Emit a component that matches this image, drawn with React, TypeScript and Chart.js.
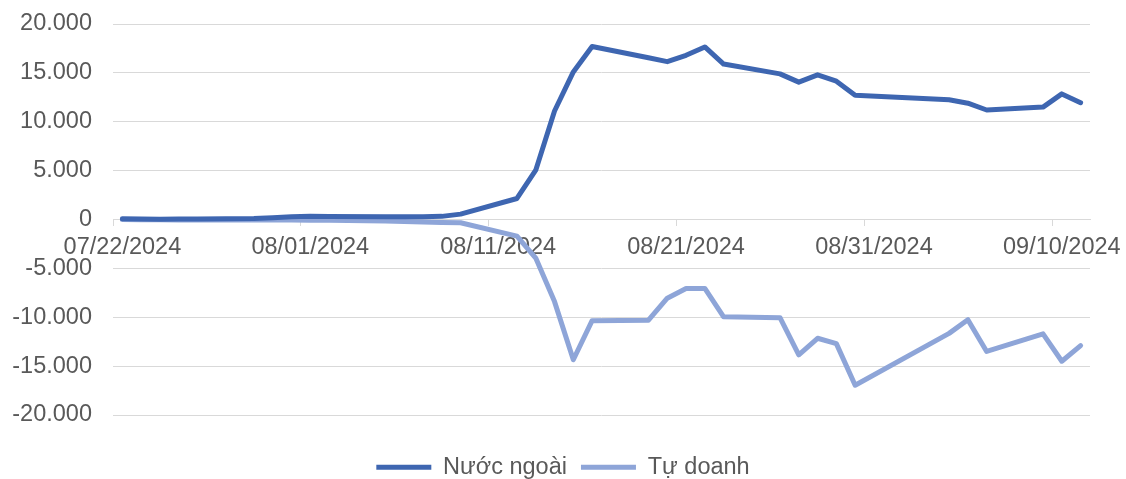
import React, { useEffect, useRef } from 'react';
import { Chart, registerables } from 'chart.js';

Chart.register(...registerables);

// Trading dates (MM/DD/YYYY)
const DATES = [
  '07/22/2024', '07/23/2024', '07/24/2024', '07/25/2024', '07/26/2024',
  '07/29/2024', '07/30/2024', '07/31/2024', '08/01/2024', '08/02/2024',
  '08/05/2024', '08/06/2024', '08/07/2024', '08/08/2024', '08/09/2024',
  '08/12/2024', '08/13/2024', '08/14/2024', '08/15/2024', '08/16/2024',
  '08/19/2024', '08/20/2024', '08/21/2024', '08/22/2024', '08/23/2024',
  '08/26/2024', '08/27/2024', '08/28/2024', '08/29/2024', '08/30/2024',
  '09/04/2024', '09/05/2024', '09/06/2024',
  '09/09/2024', '09/10/2024', '09/11/2024',
];

const NUOC_NGOAI = [
  80, 60, 30, 40, 60,
  100, 180, 280, 330, 300,
  280, 270, 290, 320, 550,
  2150, 5050, 11100, 15100, 17700,
  16550, 16150, 16800, 17650, 15900,
  14900, 14050, 14800, 14150, 12700,
  12250, 11900, 11200,
  11500, 12850, 11950,
];

const TU_DOANH = [
  0, -20, -30, -40, -40,
  -50, -60, -60, -70, -80,
  -150, -200, -250, -300, -330,
  -1700, -3950, -8400, -14350, -10350,
  -10300, -8050, -7050, -7050, -9950,
  -10050, -13850, -12150, -12700, -16950,
  -11650, -10250, -13500,
  -11700, -14500, -12900,
];

const X_TICK_LABELS = ['07/22/2024', '08/01/2024', '08/11/2024', '08/21/2024', '08/31/2024', '09/10/2024'];
const X_START = '07/22/2024';
const X_END = '09/11/2024';
const Y_MIN = -20000;
const Y_MAX = 20000;
const Y_STEP = 5000;

const SERIES_NAMES = ['Nước ngoài', 'Tự doanh'];

function toUTC(s: string): number {
  const [m, d, y] = s.split('/').map(Number);
  return Date.UTC(y, m - 1, d);
}
function dayIndex(s: string): number {
  return Math.round((toUTC(s) - toUTC(X_START)) / 86400000);
}
function fmt(v: number): string {
  const sign = v < 0 ? '-' : '';
  const s = String(Math.abs(Math.round(v)));
  return sign + s.replace(/\B(?=(\d{3})+(?!\d))/g, '.');
}

const FONT = { family: '"Liberation Sans", Arial, sans-serif', size: 23.5 };
const TEXT = '#595959';
const GRID = '#d9d9d9';

export default function App() {
  const ref = useRef<HTMLCanvasElement>(null);
  useEffect(() => {
    if (!ref.current) return;
    const xs = DATES.map(dayIndex);
    const chart = new Chart(ref.current, {
      type: 'line',
      data: {
        datasets: [
          {
            label: SERIES_NAMES[0],
            data: xs.map((x, i) => ({ x, y: NUOC_NGOAI[i] })),
            borderColor: '#3e66b1',
            backgroundColor: '#3e66b1',
            borderWidth: 5,
            pointRadius: 0,
            tension: 0,
            borderJoinStyle: 'round',
            borderCapStyle: 'round',
          },
          {
            label: SERIES_NAMES[1],
            data: xs.map((x, i) => ({ x, y: TU_DOANH[i] })),
            borderColor: '#8ea5d8',
            backgroundColor: '#8ea5d8',
            borderWidth: 5,
            pointRadius: 0,
            tension: 0,
            borderJoinStyle: 'round',
            borderCapStyle: 'round',
          },
        ],
      },
      options: {
        responsive: false,
        animation: false,
        devicePixelRatio: 1,
        layout: { padding: { top: 24, left: 12, right: 12, bottom: 0 } },
        plugins: {
          tooltip: { enabled: false },
          legend: {
            position: 'bottom',
            title: { display: true, text: '', padding: { top: 25.5, bottom: 0 }, font: { size: 1, lineHeight: 1 } },
            labels: {
              usePointStyle: true,
              pointStyle: 'line',
              pointStyleWidth: 55,
              padding: 14,
              color: TEXT,
              font: FONT,
            },
          },
        },
        scales: {
          x: {
            type: 'linear',
            min: dayIndex(X_START) - 0.5,
            max: dayIndex(X_END) + 0.5,
            position: { y: 0 },
            afterBuildTicks: (s: any) => {
              s.ticks = X_TICK_LABELS.map((l) => ({ value: dayIndex(l) - 0.5 }));
            },
            afterFit: (s: any) => {
              s.height = 0;
            },
            grid: { drawOnChartArea: false, drawTicks: true, tickLength: 6, color: GRID, lineWidth: 1 },
            border: { display: true, color: GRID, width: 1 },
            ticks: {
              autoSkip: false,
              maxRotation: 0,
              labelOffset: 9.4,
              padding: 8,
              color: TEXT,
              font: FONT,
              callback: (_v: any, i: number) => X_TICK_LABELS[i],
            },
          },
          y: {
            min: Y_MIN,
            max: Y_MAX,
            afterFit: (s: any) => {
              s.width = 101;
            },
            grid: { color: GRID, lineWidth: 1, drawTicks: true, tickLength: 21, tickColor: 'rgba(0,0,0,0)' },
            border: { display: false },
            ticks: {
              stepSize: Y_STEP,
              padding: 0,
              color: TEXT,
              font: FONT,
              callback: (v: any) => fmt(Number(v)),
            },
          },
          y2: {
            position: 'right',
            display: true,
            afterFit: (s: any) => {
              s.width = 24;
            },
            grid: { display: false, drawTicks: false },
            border: { display: false },
            ticks: { display: false },
          },
        },
      },
    } as any);
    return () => chart.destroy();
  }, []);
  return (
    <div style={{ position: 'fixed', left: 0, top: 0, width: 1126, height: 489, background: '#fff' }}>
      <canvas ref={ref} width={1126} height={489} style={{ display: 'block' }} />
    </div>
  );
}
